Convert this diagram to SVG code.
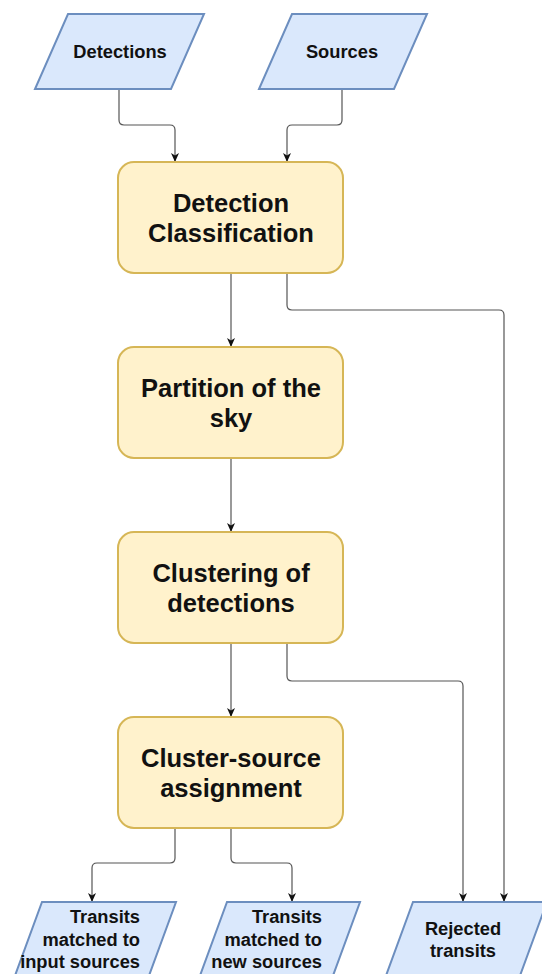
<svg xmlns="http://www.w3.org/2000/svg" width="542" height="974" viewBox="0 0 542 974">
<style>
.io{fill:#dae8fc;stroke:#6c8ebf;stroke-width:2}
.proc{fill:#fff2cc;stroke:#d6b656;stroke-width:2}
.big{font-family:"Liberation Sans",Arial,Helvetica,sans-serif;font-weight:bold;font-size:25.5px;fill:#111;text-anchor:middle}
.sm{font-family:"Liberation Sans",Arial,Helvetica,sans-serif;font-weight:bold;font-size:18.3px;fill:#111}
.c{text-anchor:middle}
.e{text-anchor:end}
.edge{fill:none;stroke:#555;stroke-width:1.2}
</style>
<defs>
<marker id="arr" markerUnits="userSpaceOnUse" markerWidth="10" markerHeight="10" viewBox="0 0 10 10" refX="9" refY="5" orient="auto">
<path d="M0,1 L9,5 L0,9 L2.5,5 Z" fill="#111"/>
</marker>
</defs>
<g id="connectors">
<path class="edge" marker-end="url(#arr)" d="M119,89 V120 Q119,125 124,125 H170 Q175,125 175,130 V162"/>
<path class="edge" marker-end="url(#arr)" d="M342,89 V120 Q342,125 337,125 H292 Q287,125 287,130 V162"/>
<path class="edge" marker-end="url(#arr)" d="M231,273 V347"/>
<path class="edge" marker-end="url(#arr)" d="M287,273 V305 Q287,310 292,310 H499 Q504,310 504,315 V902"/>
<path class="edge" marker-end="url(#arr)" d="M231,458 V532"/>
<path class="edge" marker-end="url(#arr)" d="M231,643 V717"/>
<path class="edge" marker-end="url(#arr)" d="M287,643 V676 Q287,681 292,681 H458 Q463,681 463,686 V902"/>
<path class="edge" marker-end="url(#arr)" d="M175,828 V858 Q175,863 170,863 H97 Q92,863 92,868 V902"/>
<path class="edge" marker-end="url(#arr)" d="M231,828 V858 Q231,863 236,863 H287 Q292,863 292,868 V902"/>
</g>
<g id="detections">
<polygon class="io" points="68,14 204,14 171,89 35,89"/>
<text class="sm c" x="120" y="58">Detections</text>
</g>
<g id="sources">
<polygon class="io" points="292,14 427,14 394,89 259,89"/>
<text class="sm c" x="342" y="58">Sources</text>
</g>
<g id="detection-classification">
<rect class="proc" x="118" y="162" width="225" height="111" rx="16"/>
<text class="big" x="231" y="212">Detection</text>
<text class="big" x="231" y="242">Classification</text>
</g>
<g id="partition">
<rect class="proc" x="118" y="347" width="225" height="111" rx="16"/>
<text class="big" x="231" y="397">Partition of the</text>
<text class="big" x="231" y="427">sky</text>
</g>
<g id="clustering">
<rect class="proc" x="118" y="532" width="225" height="111" rx="16"/>
<text class="big" x="231" y="582">Clustering of</text>
<text class="big" x="231" y="612">detections</text>
</g>
<g id="assignment">
<rect class="proc" x="118" y="717" width="225" height="111" rx="16"/>
<text class="big" x="231" y="767">Cluster-source</text>
<text class="big" x="231" y="797">assignment</text>
</g>
<g id="matched-input">
<polygon class="io" points="42,902 176,902 143,992 9,992"/>
<text class="sm e" x="140" y="923">Transits</text>
<text class="sm e" x="140" y="946">matched to</text>
<text class="sm e" x="140" y="968">input sources</text>
</g>
<g id="matched-new">
<polygon class="io" points="227,902 360,902 327,992 194,992"/>
<text class="sm e" x="322" y="923">Transits</text>
<text class="sm e" x="322" y="946">matched to</text>
<text class="sm e" x="322" y="968">new sources</text>
</g>
<g id="rejected">
<polygon class="io" points="413,902 547,902 514,992 380,992"/>
<text class="sm c" x="463" y="935">Rejected</text>
<text class="sm c" x="463" y="957">transits</text>
</g>
</svg>
